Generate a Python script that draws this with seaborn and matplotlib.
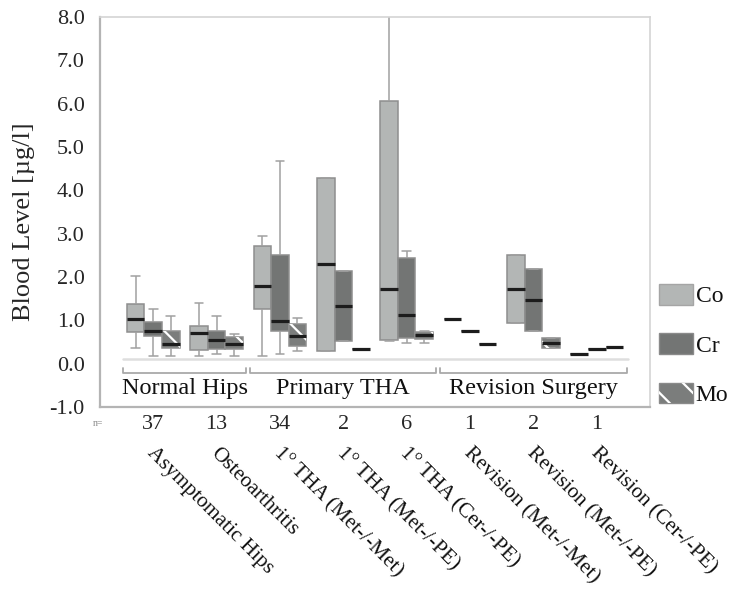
import numpy as np
import pandas as pd
import matplotlib
matplotlib.use("Agg")
import matplotlib.pyplot as plt
from matplotlib.patches import Patch, PathPatch
from matplotlib.colors import to_rgb
import seaborn as sns

# ---- data -------------------------------------------------------------
categories = [
    "Asymptomatic Hips",
    "Osteoarthritis",
    "1° THA (Met-/-Met)",
    "1° THA (Met-/-PE)",
    "1° THA (Cer-/-PE)",
    "Revision (Met-/-Met)",
    "Revision (Met-/-PE)",
    "Revision (Cer-/-PE)",
]
n_counts = [37, 13, 34, 2, 6, 1, 2, 1]
metals = ["Co", "Cr", "Mo"]
groups = ["Normal Hips", "Primary THA", "Revision Surgery"]
group_spans = [(0, 1), (2, 4), (5, 7)]

# five-number summaries per category: [min, Q1, median, Q3, max] in µg/l
co_stats = [
    [0.37, 0.72, 1.02, 1.38, 2.02],
    [0.18, 0.32, 0.70, 0.87, 1.41],
    [0.18, 1.26, 1.80, 2.72, 2.95],
    [0.29, 0.29, 2.29, 4.29, 4.29],
    [0.52, 0.55, 1.72, 6.07, 8.40],
    [1.02, 1.02, 1.02, 1.02, 1.02],
    [0.95, 0.95, 1.73, 2.51, 2.51],
    [0.22, 0.22, 0.22, 0.22, 0.22],
]
cr_stats = [
    [0.18, 0.64, 0.76, 0.97, 1.26],
    [0.22, 0.33, 0.55, 0.75, 1.10],
    [0.22, 0.75, 0.99, 2.51, 4.68],
    [0.52, 0.52, 1.33, 2.14, 2.14],
    [0.48, 0.60, 1.12, 2.45, 2.61],
    [0.75, 0.75, 0.75, 0.75, 0.75],
    [0.75, 0.75, 1.47, 2.18, 2.18],
    [0.33, 0.33, 0.33, 0.33, 0.33],
]
mo_stats = [
    [0.18, 0.37, 0.45, 0.75, 1.10],
    [0.18, 0.33, 0.45, 0.61, 0.68],
    [0.29, 0.41, 0.64, 0.92, 1.06],
    [0.35, 0.35, 0.35, 0.35, 0.35],
    [0.48, 0.56, 0.66, 0.74, 0.76],
    [0.45, 0.45, 0.45, 0.45, 0.45],
    [0.36, 0.36, 0.48, 0.60, 0.60],
    [0.39, 0.39, 0.39, 0.39, 0.39],
]

# ---- styling ------------------------------------------------------------
sns.set_style("white")
plt.rcParams["font.family"] = ["Liberation Serif", "DejaVu Serif"]
plt.rcParams["hatch.linewidth"] = 1.6
plt.rcParams["text.color"] = "#111111"

co_color = "#b3b6b5"
cr_color = "#737574"
mo_color = "#7b7d7c"
palette = {"Co": co_color, "Cr": cr_color, "Mo": mo_color}
edge_gray = "#8e8e8e"

# long-form table: the five summary values per box reproduce the quartiles
rows = []
for metal, stats in zip(metals, [co_stats, cr_stats, mo_stats]):
    for cat, vals in zip(categories, stats):
        for v in vals:
            rows.append({"category": cat, "metal": metal, "value": v})
df = pd.DataFrame(rows)

fig = plt.figure(figsize=(7.3, 5.9), dpi=100)
ax = fig.add_axes([100 / 730, 1 - 407 / 590, 550 / 730, 390 / 590])

sns.boxplot(
    data=df, x="category", y="value", hue="metal",
    order=categories, hue_order=metals, palette=palette,
    width=0.83, whis=(0, 100), saturation=1, showfliers=False,
    linecolor=edge_gray, linewidth=1.1,
    medianprops=dict(color="#1c1c1c", linewidth=2.3),
    whiskerprops=dict(color="#a0a0a0", linewidth=1.1),
    capprops=dict(color="#a0a0a0", linewidth=1.1),
    legend=False, ax=ax,
)

# white diagonal hatching on the Mo boxes
mo_rgb = np.array(to_rgb(mo_color))
for p in list(ax.patches):
    if np.allclose(np.array(p.get_facecolor()[:3]), mo_rgb, atol=0.01):
        ax.add_patch(PathPatch(p.get_path(), transform=ax.transData,
                               facecolor="none", edgecolor="white", lw=0,
                               hatch="\\", zorder=p.get_zorder() + 0.05))

# axes
ax.set_xlim(-0.84, 7.84)
ax.set_ylim(-1.0, 8.0)
ax.set_yticks(np.arange(-1, 9, 1))
ax.set_yticklabels([f"{v:.1f}" for v in np.arange(-1, 9, 1)], fontsize=16)
ax.set_xticks(range(len(categories)))
ax.set_xticklabels([str(n) for n in n_counts], fontsize=16)
ax.set_xlabel("")
ax.set_ylabel("Blood Level [µg/l]", fontsize=19)
ax.yaxis.set_label_coords(-0.118, 0.474)
ax.tick_params(axis="y", direction="out", length=3, width=1.2, color="#9a9a9a", pad=8)
ax.tick_params(axis="x", direction="inout", length=5, width=1.2, color="#9a9a9a", pad=3)
for side in ["left", "bottom"]:
    ax.spines[side].set_color("#b4b4b4")
    ax.spines[side].set_linewidth(1.6)
for side in ["top", "right"]:
    ax.spines[side].set_color("#d4d4d4")
    ax.spines[side].set_linewidth(1.2)
    ax.spines[side].set_visible(True)

# group baseline, brackets and group names
ax.plot([-0.47, 7.5], [0.10, 0.10], color="#dedede", lw=1.8, zorder=1)
for name, (a, b) in zip(groups, group_spans):
    x0, x1 = a - 0.47, b + 0.47
    ax.plot([x0, x0, x1, x1], [-0.10, -0.21, -0.21, -0.10],
            color="#a9a9a9", lw=1.3, zorder=1)
    ax.text((a + b) / 2, -0.57, name, ha="center", va="center", fontsize=17.5)

# rotated category names below the n row
for i, cat in enumerate(categories):
    ax.text(i + 0.05, -0.095, cat, transform=ax.get_xaxis_transform(),
            rotation=-45, rotation_mode="anchor", ha="left", va="top",
            fontsize=15.3, clip_on=False)

fig.text(93 / 730, 1 - 423 / 590, "n=", fontsize=7, color="#8a8a8a",
         ha="left", va="center")

# legend
handles = [
    Patch(facecolor=co_color, edgecolor="#a5a5a5", lw=1.0),
    Patch(facecolor=cr_color, edgecolor="#8a8a8a", lw=1.0),
    (Patch(facecolor=mo_color, edgecolor="#8a8a8a", lw=1.0),
     Patch(facecolor="none", edgecolor="white", lw=0, hatch="\\")),
]
fig.legend(handles, metals, loc="upper left",
           bbox_to_anchor=(659 / 730, 1 - 284 / 590),
           frameon=False, fontsize=17, handlelength=1.45, handleheight=0.97,
           handletextpad=0.1, labelspacing=1.1, borderpad=0, borderaxespad=0)

fig.savefig("out.png", dpi=100)
